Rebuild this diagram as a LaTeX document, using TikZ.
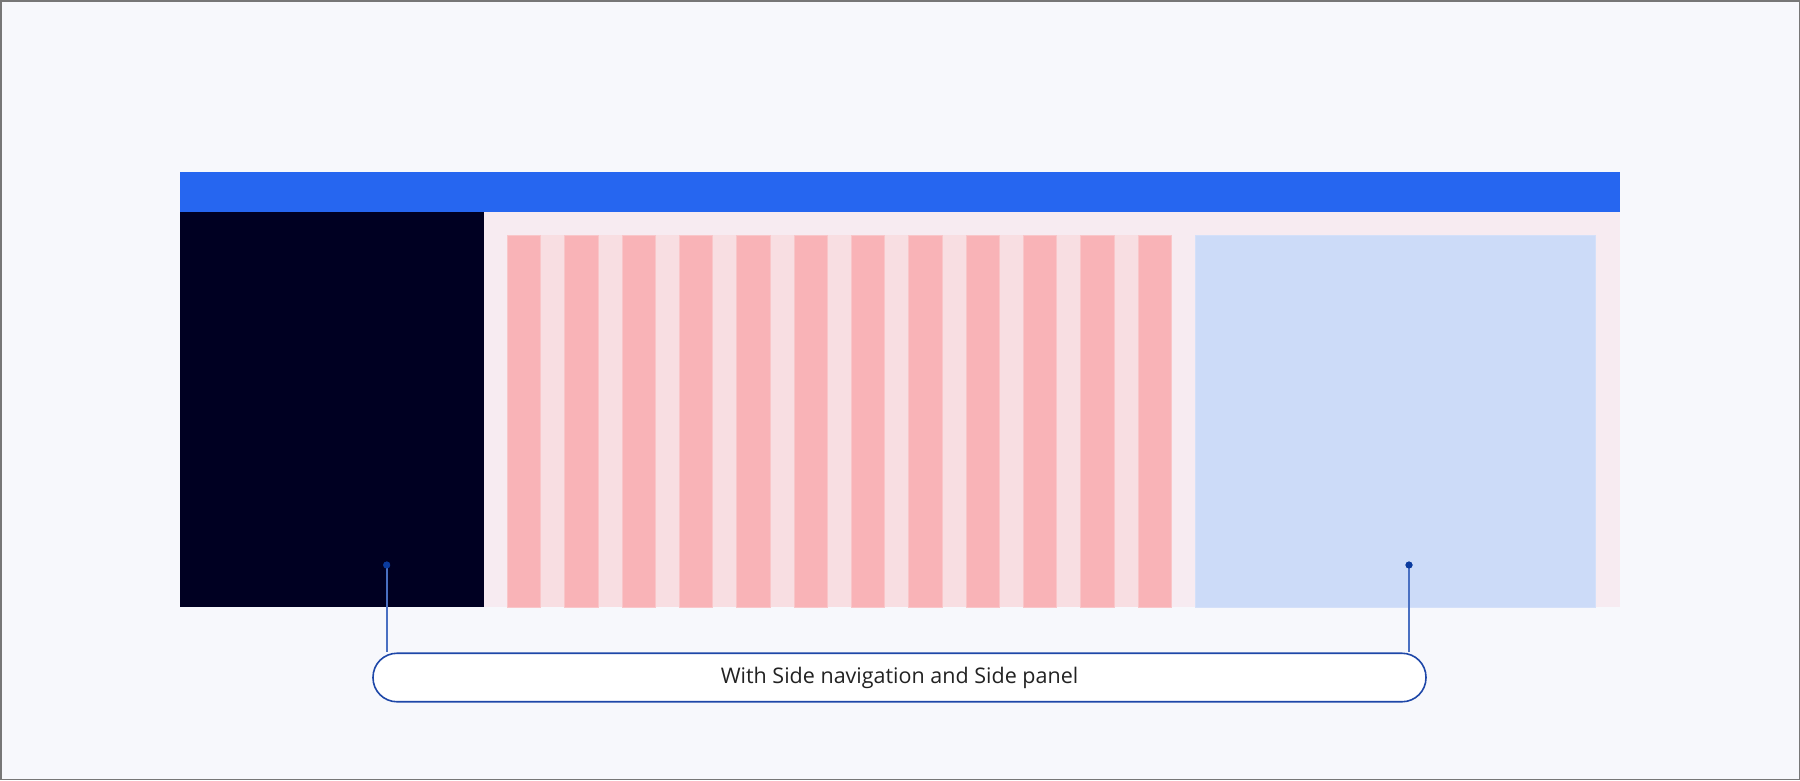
\documentclass[tikz,border=0pt]{standalone}
\usepackage{fontspec}
\setmainfont{Open Sans}
\definecolor{bgc}{HTML}{F7F8FC}
\definecolor{framec}{HTML}{777777}
\definecolor{headc}{HTML}{2666F0}
\definecolor{navc}{HTML}{000022}
\definecolor{contc}{HTML}{F7EBF1}
\definecolor{gutc}{HTML}{F8DEE2}
\definecolor{colc}{HTML}{F9B3B7}
\definecolor{coledge}{HTML}{F9C6C9}
\definecolor{panelc}{HTML}{CCDBF8}
\definecolor{linec}{HTML}{4A70C2}
\definecolor{dotc}{HTML}{0A3A9E}
\definecolor{pillc}{HTML}{1E47A8}
\definecolor{textc}{HTML}{222222}
\tikzset{
  region/.style={inner sep=0pt, outer sep=0pt, anchor=north west},
  gridcol/.style={fill=colc, draw=coledge, line width=0.8pt},
  leader/.style={draw=linec, line width=2pt},
  dotmark/.style={circle, fill=dotc, inner sep=0pt, minimum size=7pt},
  pill/.style={draw=pillc, line width=1.6pt, fill=white, rounded corners=24pt, inner sep=0pt,
               minimum width=1053pt, minimum height=48.5pt,
               font=\fontsize{21.5pt}{24pt}\selectfont, text=textc}
}
\begin{document}
\begin{tikzpicture}[x=1pt, y=-1pt]
\useasboundingbox (0,0) rectangle (1800,780);
% background and frame
\fill[bgc] (0,0) rectangle (1800,780);
\draw[framec, line width=1.5pt] (0.75,0.75) rectangle (1799.25,779.25);
% content area
\fill[contc] (180,211.5) rectangle (1620,607);
% header
\fill[headc] (180,172) rectangle (1620,211.5);
% side navigation
\fill[navc] (180,211.5) rectangle (484,607);
% grid gutters and columns
\fill[gutc] (507.4,235) rectangle (1171.4,607);
\foreach \i in {0,...,11}{
  \path[gridcol] ({507.4+57.33*\i},235) rectangle ({540.7+57.33*\i},607);
}
% side panel
\path[fill=panelc, draw=panelc!85!white, line width=0.8pt] (1195,235) rectangle (1595,607);
% label
\node[pill] (lbl) at (899.5,677.5) {With Side navigation and Side panel};
\node[dotmark] (d1) at (386.7,565) {};
\node[dotmark] (d2) at (1409,565) {};
\draw[leader] (d1.center) -- (d1.center |- lbl.north);
\draw[leader] (d2.center) -- (d2.center |- lbl.north);
\node[dotmark] at (d1) {};
\node[dotmark] at (d2) {};
\end{tikzpicture}
\end{document}
